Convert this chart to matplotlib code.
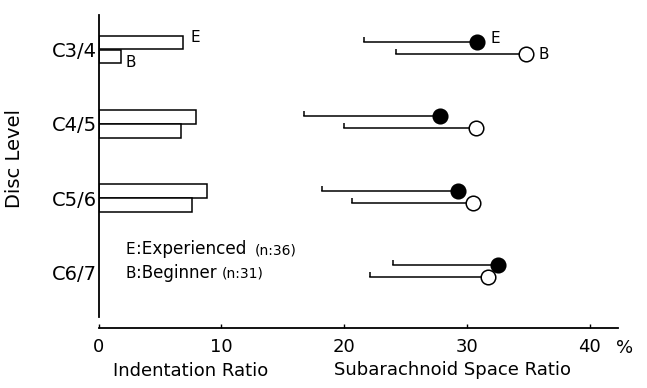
import numpy as np
import matplotlib
matplotlib.use("Agg")
import matplotlib.pyplot as plt
from matplotlib import font_manager
from matplotlib.path import Path

# data
levels = ['C3/4', 'C4/5', 'C5/6', 'C6/7']
indent_exp = [6.9, 7.9, 8.8, np.nan]
indent_beg = [1.8, 6.7, 7.6, np.nan]
sub_exp_mean = [30.8, 27.8, 29.3, 32.5]
sub_exp_low = [21.6, 16.7, 18.2, 24.0]
sub_beg_mean = [34.8, 30.7, 30.5, 31.7]
sub_beg_low = [24.2, 20.0, 20.6, 22.1]
xticks = [0, 10, 20, 30, 40]

plt.rcParams['font.family'] = ['DejaVu Sans']
names = {f.name for f in font_manager.fontManager.ttflist}
narrow = 'Liberation Sans Narrow' if 'Liberation Sans Narrow' in names else 'DejaVu Sans'

fig = plt.figure(figsize=(6.47, 3.88), dpi=100)
ax = fig.add_axes([0.1526, 0.1546, 0.955 - 0.1526, 0.961 - 0.1546])

y = np.arange(len(levels))
bh = 0.18
lw = 1.1

# indentation ratio bars
for vals, off in ((indent_exp, -0.095), (indent_beg, 0.095)):
    v = np.array(vals)
    ok = ~np.isnan(v)
    ax.barh(y[ok] + off, v[ok], height=bh, color='white', edgecolor='black',
            linewidth=lw, zorder=2)

# subarachnoid space ratio: one-sided bars with left tick
cap = Path([(0, 0), (0, 1)], [Path.MOVETO, Path.LINETO])
for low, mean, off, face in ((sub_exp_low, sub_exp_mean, -0.1, 'black'),
                             (sub_beg_low, sub_beg_mean, 0.06, 'white')):
    for i in range(len(levels)):
        ax.plot([low[i], mean[i]], [y[i] + off] * 2, color='black', lw=lw, zorder=2)
    ax.plot(low, y + off, linestyle='none', marker=cap, markersize=7,
            markeredgewidth=lw, color='black', zorder=2)
    ax.plot(mean, y + off, linestyle='none', marker='o', markersize=10.5,
            markerfacecolor=face, markeredgecolor='black', markeredgewidth=1.1,
            zorder=3)

# E / B tags next to the first level
tag = dict(fontsize=11, va='center', ha='left', family=narrow)
ax.text(indent_exp[0] + 0.6, y[0] - 0.165, 'E', **tag)
ax.text(indent_beg[0] + 0.4, y[0] + 0.17, 'B', **tag)
ax.text(sub_exp_mean[0] + 1.1, y[0] - 0.15, 'E', **tag)
ax.text(sub_beg_mean[0] + 1.0, y[0] + 0.065, 'B', **tag)

# legend text
ax.text(2.2, 2.69, 'E', **tag)
ax.text(3.0, 2.69, ':Experienced', fontsize=12.2, va='center')
ax.text(12.7, 2.70, '(n:36)', fontsize=10, va='center')
ax.text(2.2, 3.01, 'B', **tag)
ax.text(3.0, 3.01, ':Beginner', fontsize=12, va='center')
ax.text(10.0, 3.02, '(n:31)', fontsize=10, va='center')

ax.set_xlim(0, 42.3)
ax.set_ylim(3.75, -0.465)
ax.set_xticks(xticks)
ax.set_xticklabels([str(t) for t in xticks], fontsize=13)
ax.tick_params(axis='x', direction='in', length=3, width=1, pad=7)
ax.set_yticks(y)
ax.set_yticklabels(levels, fontsize=14)
ax.tick_params(axis='y', length=0, pad=1.5)

for s in ('top', 'right'):
    ax.spines[s].set_visible(False)
ax.spines['left'].set_bounds(-0.465, 3.6)
ax.spines['left'].set_linewidth(1.3)
ax.spines['bottom'].set_linewidth(1.3)

fig.text(625 / 647, 1 - 348 / 388, '%', fontsize=13, ha='center', va='center')
fig.text(191 / 647, 1 - 371 / 388, 'Indentation Ratio', fontsize=13,
         ha='center', va='center')
fig.text(453 / 647, 1 - 370 / 388, 'Subarachnoid Space Ratio', fontsize=13,
         ha='center', va='center')
fig.text(15 / 647, 1 - 158 / 388, 'Disc Level', fontsize=14, rotation=90,
         ha='center', va='center')

fig.savefig('out.png', dpi=100)
